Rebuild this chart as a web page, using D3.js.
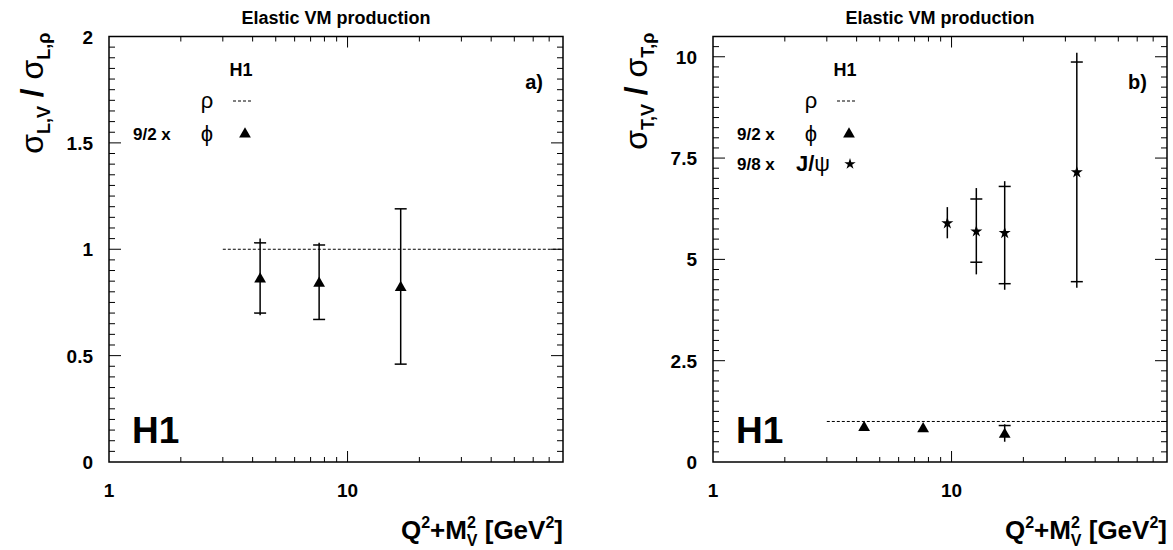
<!DOCTYPE html>
<html>
<head>
<meta charset="utf-8">
<script src="https://cdn.jsdelivr.net/npm/d3@7"></script>
<style>
  body { margin: 0; background: #fff; }
  text { font-family: "Liberation Sans", Arial, sans-serif; }
</style>
</head>
<body>
<div class="chart"></div>
<script>
// data
var xTickLabels = [1, 10];
var yTicksL = [0, 0.5, 1, 1.5, 2];
var yTicksT = [0, 2.5, 5, 7.5, 10];
var yTickLabelsT = ["0", "2.5", "5", "7.5", "10"];

var rhoLineFrom = 3.0;   // rho reference = 1, drawn from here on

// phi, longitudinal (panel a)
var phiQ2 = [4.3, 7.6, 16.7];
var phiL = [0.86, 0.84, 0.82];
var phiLStat = [[0.70, 1.03], [0.67, 1.02], [0.46, 1.19]];
var phiLTot = [[0.69, 1.05], [0.67, 1.03], [0.46, 1.19]];

// phi, transverse (panel b)
var phiT = [0.85, 0.82, 0.68];
var phiTStat = [[0.85, 0.85], [0.82, 0.82], [0.57, 0.90]];
var phiTTot = [[0.85, 0.85], [0.82, 0.82], [0.50, 0.93]];

// J/psi, transverse (panel b)
var jpsiQ2 = [9.6, 12.7, 16.7, 33.5];
var jpsiT = [5.89, 5.69, 5.65, 7.15];
var jpsiTStat = [[5.77, 6.06], [4.93, 6.49], [4.40, 6.80], [4.45, 9.87]];
var jpsiTTot = [[5.52, 6.29], [4.63, 6.76], [4.25, 6.93], [4.30, 10.1]];

var NS = {};
NS.width = 1173;
NS.height = 550;
NS.top = 36.5;
NS.bottom = 462;

var svg = d3.select(".chart").append("svg")
    .attr("width", NS.width)
    .attr("height", NS.height);

function drawPanel(opt) {
  var g = svg.append("g");
  var x = d3.scaleLog().domain([1, 80]).range([opt.x0, opt.x1]);
  var y = d3.scaleLinear().domain([0, opt.ymax]).range([NS.bottom, NS.top]);

  // title
  g.append("text")
    .attr("x", (opt.x0 + opt.x1) / 2)
    .attr("y", 24)
    .attr("text-anchor", "middle")
    .attr("font-weight", "bold")
    .attr("font-size", 18)
    .text("Elastic VM production");

  // frame
  g.append("rect")
    .attr("x", opt.x0).attr("y", NS.top)
    .attr("width", opt.x1 - opt.x0).attr("height", NS.bottom - NS.top)
    .attr("fill", "none").attr("stroke", "#000").attr("stroke-width", 1.5);

  // x ticks (log), bottom and top
  var xt = [];
  [1, 10].forEach(function(dec) {
    for (var k = 1; k < 10; k++) {
      var v = k * dec;
      if (v > 1 && v < 80) xt.push(v);
    }
  });
  xt.forEach(function(v) {
    var len = (v === 10) ? 11 : 5;
    g.append("line").attr("x1", x(v)).attr("x2", x(v))
      .attr("y1", NS.bottom).attr("y2", NS.bottom - len)
      .attr("stroke", "#000").attr("stroke-width", 1);
    g.append("line").attr("x1", x(v)).attr("x2", x(v))
      .attr("y1", NS.top).attr("y2", NS.top + len)
      .attr("stroke", "#000").attr("stroke-width", 1);
  });

  // y ticks, left and right
  var nMinor = Math.round(opt.ymax / opt.minor);
  for (var i = 1; i <= nMinor; i++) {
    var v = i * opt.minor;
    if (y(v) < NS.top + 0.5) continue;
    var major = Math.abs(v / opt.major - Math.round(v / opt.major)) < 1e-6;
    var len = major ? 12 : 6;
    g.append("line").attr("x1", opt.x0).attr("x2", opt.x0 + len)
      .attr("y1", y(v)).attr("y2", y(v))
      .attr("stroke", "#000").attr("stroke-width", 1);
    g.append("line").attr("x1", opt.x1).attr("x2", opt.x1 - len)
      .attr("y1", y(v)).attr("y2", y(v))
      .attr("stroke", "#000").attr("stroke-width", 1);
  }

  // tick labels
  g.selectAll(".ylab").data(opt.yTicks).enter().append("text")
    .attr("x", opt.x0 - 16)
    .attr("y", function(d) { return y(d) + 7; })
    .attr("text-anchor", "end")
    .attr("font-weight", "bold")
    .attr("font-size", 19)
    .text(function(d, i) { return opt.yLabels[i]; });
  g.selectAll(".xlab").data(xTickLabels).enter().append("text")
    .attr("x", function(d) { return x(d); })
    .attr("y", 497)
    .attr("text-anchor", "middle")
    .attr("font-weight", "bold")
    .attr("font-size", 19)
    .text(function(d) { return d; });

  // x axis title
  var xt2 = g.append("text")
    .attr("x", opt.x1)
    .attr("y", 539)
    .attr("text-anchor", "end")
    .attr("font-weight", "bold")
    .attr("font-size", 26);
  xt2.append("tspan").text("Q");
  xt2.append("tspan").attr("font-size", 16).attr("dy", -11).text("2");
  xt2.append("tspan").attr("dy", 11).text("+M");
  xt2.append("tspan").attr("font-size", 16).attr("dy", -11).text("2");
  xt2.append("tspan").attr("font-size", 16).attr("dx", -9).attr("dy", 18).text("V");
  xt2.append("tspan").attr("dy", -7).text(" [GeV");
  xt2.append("tspan").attr("font-size", 16).attr("dy", -11).text("2");
  xt2.append("tspan").attr("dy", 11).text("]");

  // y axis title, rotated
  var yt = g.append("text")
    .attr("transform", "translate(" + (opt.x0 - 66) + "," + (NS.top - 4) + ") rotate(-90)")
    .attr("text-anchor", "end")
    .attr("font-size", 32);
  yt.append("tspan").text("\u03c3");
  yt.append("tspan").attr("font-size", 18).attr("font-weight", "bold").attr("dy", 7).text(opt.pol + ",V");
  yt.append("tspan").attr("font-weight", "bold").attr("dy", -7).text(" / ");
  yt.append("tspan").text("\u03c3");
  yt.append("tspan").attr("font-size", 18).attr("font-weight", "bold").attr("dy", 7).text(opt.pol + ",\u03c1");

  // panel letter
  g.append("text")
    .attr("x", opt.x1 - 20).attr("y", 89)
    .attr("text-anchor", "end")
    .attr("font-weight", "bold")
    .attr("font-size", 20)
    .text(opt.letter);

  // big H1
  g.append("text")
    .attr("x", opt.x0 + 23).attr("y", 443)
    .attr("font-weight", "bold")
    .attr("font-size", 37)
    .text("H1");

  // legend
  var lx = opt.x0;
  g.append("text").attr("x", lx + 132).attr("y", 76)
    .attr("text-anchor", "middle").attr("font-weight", "bold").attr("font-size", 18).text("H1");
  g.append("text").attr("x", lx + 98).attr("y", 108)
    .attr("text-anchor", "middle").attr("font-size", 22).text("\u03c1");
  g.append("line").attr("x1", lx + 124).attr("x2", lx + 142)
    .attr("y1", 101).attr("y2", 101)
    .attr("stroke", "#000").attr("stroke-width", 1).attr("stroke-dasharray", "3,2");
  g.append("text").attr("x", lx + 24).attr("y", 140)
    .attr("font-weight", "bold").attr("font-size", 17).text("9/2 x");
  g.append("text").attr("x", lx + 98).attr("y", 141)
    .attr("text-anchor", "middle").attr("font-size", 22).text("\u03d5");
  g.append("path")
    .attr("transform", "translate(" + (lx + 136) + ",134)")
    .attr("d", d3.symbol().type(d3.symbolTriangle).size(60));
  if (opt.jpsi) {
    g.append("text").attr("x", lx + 24).attr("y", 170)
      .attr("font-weight", "bold").attr("font-size", 17).text("9/8 x");
    var jt = g.append("text").attr("x", lx + 100).attr("y", 171)
      .attr("text-anchor", "middle").attr("font-size", 22);
    jt.append("tspan").attr("font-weight", "bold").text("J/");
    jt.append("tspan").text("\u03c8");
    g.append("path")
      .attr("transform", "translate(" + (lx + 137) + ",164)")
      .attr("d", d3.symbol().type(d3.symbolStar).size(40));
  }

  // rho reference line at 1
  g.append("line")
    .attr("x1", x(rhoLineFrom)).attr("x2", opt.x1)
    .attr("y1", y(1)).attr("y2", y(1))
    .attr("stroke", "#000").attr("stroke-width", 1).attr("stroke-dasharray", "3,2");

  // data series
  opt.series.forEach(function(s) {
    s.x.forEach(function(q, i) {
      var px = x(q);
      g.append("line").attr("x1", px).attr("x2", px)
        .attr("y1", y(s.tot[i][0])).attr("y2", y(s.tot[i][1]))
        .attr("stroke", "#000").attr("stroke-width", 1.5);
      s.stat[i].forEach(function(v) {
        if (Math.abs(v - s.y[i]) < 0.02 * opt.ymax) return;
        g.append("line").attr("x1", px - 6).attr("x2", px + 6)
          .attr("y1", y(v)).attr("y2", y(v))
          .attr("stroke", "#000").attr("stroke-width", 1.5);
      });
      g.append("path")
        .attr("transform", "translate(" + px + "," + y(s.y[i]) + ")")
        .attr("d", d3.symbol().type(s.symbol).size(s.size));
    });
  });
}

drawPanel({
  x0: 109, x1: 563, ymax: 2, minor: 0.05, major: 0.5,
  yTicks: yTicksL, yLabels: yTicksL.map(String),
  pol: "L", letter: "a)", jpsi: false,
  series: [
    {x: phiQ2, y: phiL, stat: phiLStat, tot: phiLTot, symbol: d3.symbolTriangle, size: 60}
  ]
});

drawPanel({
  x0: 713, x1: 1167, ymax: 10.5, minor: 0.25, major: 2.5,
  yTicks: yTicksT, yLabels: yTickLabelsT,
  pol: "T", letter: "b)", jpsi: true,
  series: [
    {x: phiQ2, y: phiT, stat: phiTStat, tot: phiTTot, symbol: d3.symbolTriangle, size: 60},
    {x: jpsiQ2, y: jpsiT, stat: jpsiTStat, tot: jpsiTTot, symbol: d3.symbolStar, size: 45}
  ]
});
</script>
</body>
</html>
